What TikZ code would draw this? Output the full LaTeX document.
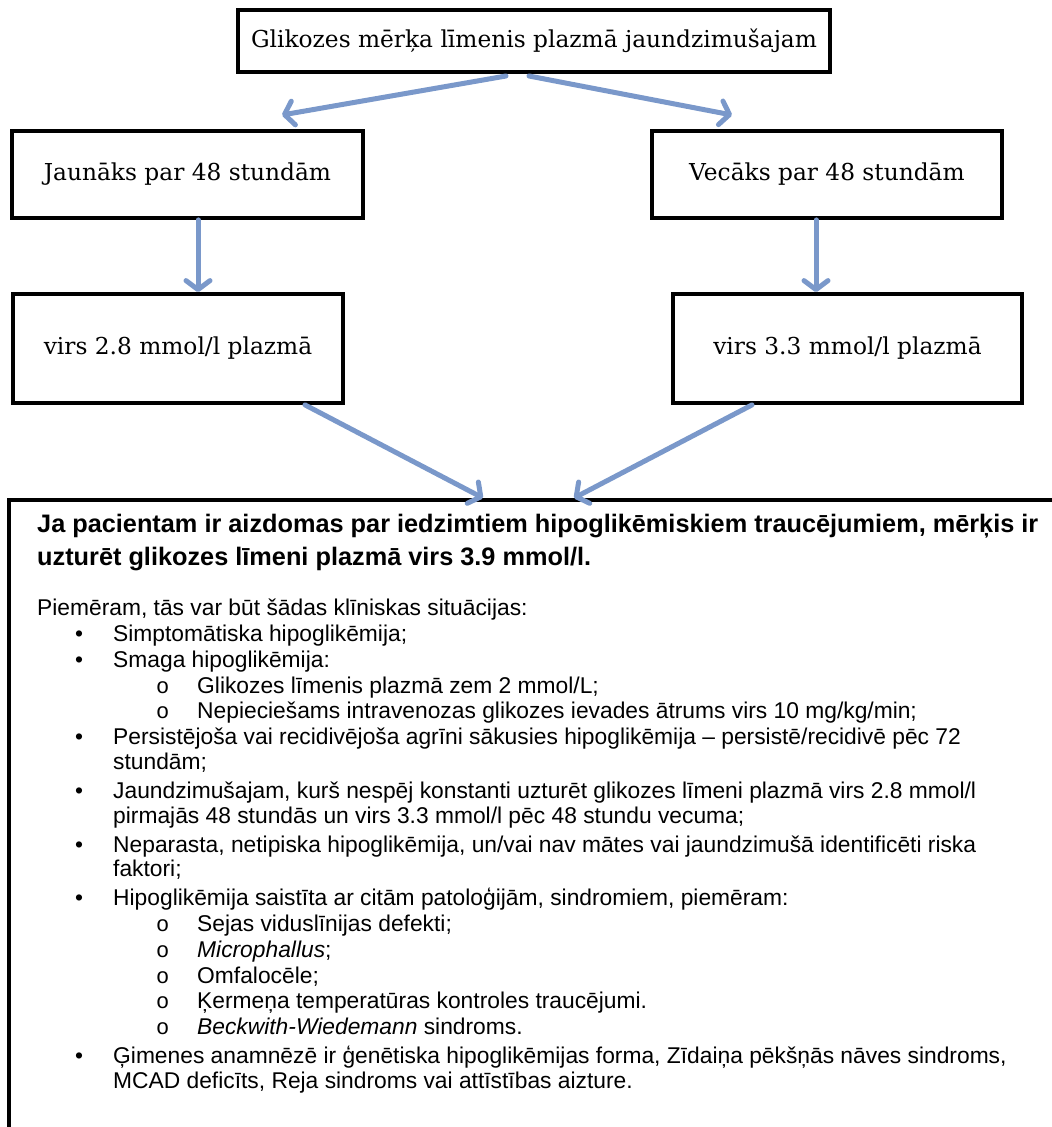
\documentclass[tikz,border=0pt]{standalone}
\usepackage{fontspec}
\setmainfont{Liberation Sans}
\newfontfamily\serifbox{DejaVu Serif}
\newfontfamily\monomark{Liberation Mono}
\usetikzlibrary{arrows.meta}
\definecolor{flowblue}{RGB}{122,152,202}
\begin{document}
\begin{tikzpicture}[x=1pt,y=-1pt,
  flowbox/.style={draw=black, line width=3.8pt, inner sep=0pt, font=\serifbox\fontsize{23.3}{27}\selectfont},
  flow/.style={draw=flowblue, line width=5pt, line cap=round, -{Straight Barb[length=9pt,width=24pt,line cap=round,round]}},
  body/.style={anchor=base west, inner sep=0pt, font=\fontsize{22.8}{26}\selectfont},
  bodybold/.style={anchor=base west, inner sep=0pt, font=\bfseries\fontsize{25.3}{29}\selectfont},
  dotmark/.style={anchor=base west, inner sep=0pt, font=\fontsize{22.8}{26}\selectfont},
  ringmark/.style={anchor=base west, inner sep=0pt, font=\monomark\fontsize{22}{25}\selectfont}
]
\useasboundingbox (0,0) rectangle (1052,1127);
\begin{scope}
\clip (0,0) rectangle (1052,1127);
% boxes
\node[flowbox, minimum width=592pt, minimum height=62pt] (top) at (534,41) {Glikozes mērķa līmenis plazmā jaundzimušajam};
\node[flowbox, minimum width=351pt, minimum height=87pt] (l1) at (187.5,174.5) {Jaunāks par 48 stundām};
\node[flowbox, minimum width=350pt, minimum height=87pt] (r1) at (827,174.5) {Vecāks par 48 stundām};
\node[flowbox, minimum width=330pt, minimum height=109pt] (l2) at (178,348.5) {virs 2.8 mmol/l plazmā};
\node[flowbox, minimum width=349pt, minimum height=109pt] (r2) at (847.5,348.5) {virs 3.3 mmol/l plazmā};
\node[draw=black, line width=3.5pt, inner sep=0pt, minimum width=1100pt, minimum height=700pt, anchor=north west] (goal) at (7,498) {};
% connector helper coordinates
\coordinate (tl) at (506,76);
\coordinate (tr) at (529,76);
\coordinate (el) at (282,115);
\coordinate (er) at (732,115);
\coordinate (dl) at (198,0);
\coordinate (dr) at (816,0);
\coordinate (sa) at (305,0);
\coordinate (ea) at (483,0);
\coordinate (sb) at (752,0);
\coordinate (eb) at (574,0);
% connectors
\draw[flow] (tl) -- (el);
\draw[flow] (tr) -- (er);
\draw[flow] (l1.south -| dl) -- (l2.north -| dl);
\draw[flow] (r1.south -| dr) -- (r2.north -| dr);
\draw[flow] (l2.south -| sa) -- (goal.north -| ea);
\draw[flow] (r2.south -| sb) -- (goal.north -| eb);
% text of the bottom box
\node[bodybold] (h1) at (37,532) {Ja pacientam ir aizdomas par iedzimtiem hipoglikēmiskiem traucējumiem, mērķis ir};
\node[bodybold] (h2) at (37,565) {uzturēt glikozes līmeni plazmā virs 3.9 mmol/l.};
\node[body] (p0) at (37,615) {Piemēram, tās var būt šādas klīniskas situācijas:};
\node[dotmark] (m1) at (75,641) {•};
\node[body] (i1) at (113,641) {Simptomātiska hipoglikēmija;};
\node[dotmark] (m2) at (75,667) {•};
\node[body] (i2) at (113,667) {Smaga hipoglikēmija:};
\node[ringmark] (s1) at (156,693) {o};
\node[body] (j1) at (197,693) {Glikozes līmenis plazmā zem 2 mmol/L;};
\node[ringmark] (s2) at (156,718) {o};
\node[body] (j2) at (197,718) {Nepieciešams intravenozas glikozes ievades ātrums virs 10 mg/kg/min;};
\node[dotmark] (m3) at (75,744) {•};
\node[body] (i3) at (113,744) {Persistējoša vai recidivējoša agrīni sākusies hipoglikēmija – persistē/recidivē pēc 72};
\node[body] (i3b) at (113,769) {stundām;};
\node[dotmark] (m4) at (75,798) {•};
\node[body] (i4) at (113,798) {Jaundzimušajam, kurš nespēj konstanti uzturēt glikozes līmeni plazmā virs 2.8 mmol/l};
\node[body] (i4b) at (113,823) {pirmajās 48 stundās un virs 3.3 mmol/l pēc 48 stundu vecuma;};
\node[dotmark] (m5) at (75,852) {•};
\node[body] (i5) at (113,852) {Neparasta, netipiska hipoglikēmija, un/vai nav mātes vai jaundzimušā identificēti riska};
\node[body] (i5b) at (113,876) {faktori;};
\node[dotmark] (m6) at (75,905) {•};
\node[body] (i6) at (113,905) {Hipoglikēmija saistīta ar citām patoloģijām, sindromiem, piemēram:};
\node[ringmark] (s3) at (156,931) {o};
\node[body] (k1) at (197,931) {Sejas viduslīnijas defekti;};
\node[ringmark] (s4) at (156,957) {o};
\node[body] (k2) at (197,957) {\textit{Microphallus};};
\node[ringmark] (s5) at (156,983) {o};
\node[body] (k3) at (197,983) {Omfalocēle;};
\node[ringmark] (s6) at (156,1008) {o};
\node[body] (k4) at (197,1008) {Ķermeņa temperatūras kontroles traucējumi.};
\node[ringmark] (s7) at (156,1034) {o};
\node[body] (k5) at (197,1034) {\textit{Beckwith-Wiedemann} sindroms.};
\node[dotmark] (m7) at (75,1063) {•};
\node[body] (i7) at (113,1063) {Ģimenes anamnēzē ir ģenētiska hipoglikēmijas forma, Zīdaiņa pēkšņās nāves sindroms,};
\node[body] (i7b) at (113,1088) {MCAD deficīts, Reja sindroms vai attīstības aizture.};
\end{scope}
\end{tikzpicture}
\end{document}
